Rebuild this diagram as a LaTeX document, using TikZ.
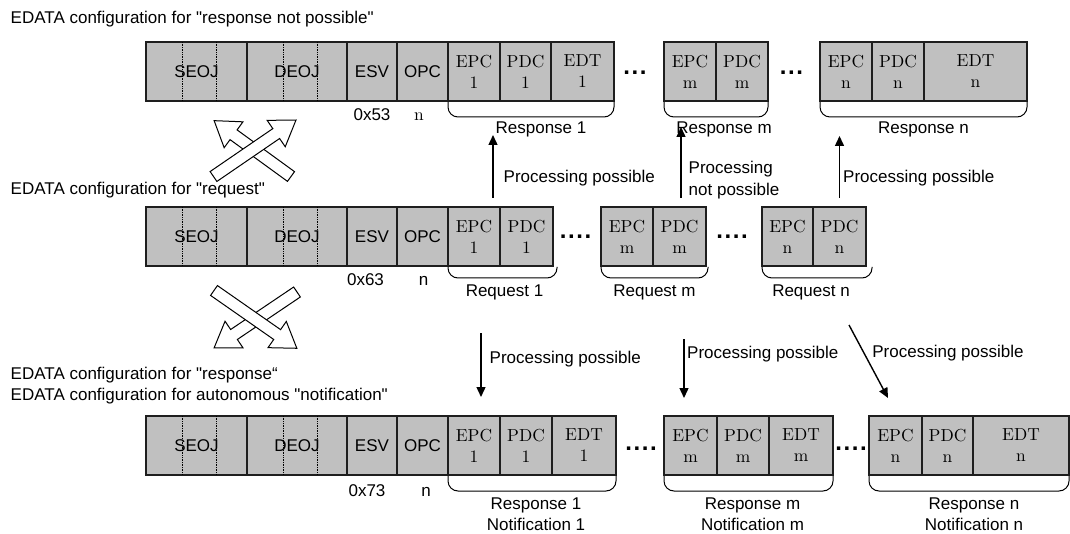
\documentclass[tikz,border=0pt]{standalone}
\usepackage{fontspec}
\setsansfont{Liberation Sans}
\newfontfamily\cellfont{lmroman10-regular.otf}
\usetikzlibrary{positioning,arrows.meta}
\definecolor{cellgray}{HTML}{C0C0C0}
\definecolor{edgeblk}{HTML}{1E1E1E}
\newcommand{\lblfont}{\sffamily\fontsize{17}{21.5}\selectfont}
\newcommand{\qq}{\textquotedbl}
\newcommand{\dotsthree}{.\kern1.6pt.\kern1.6pt.}
\newcommand{\dotsfour}{.\kern1.6pt.\kern1.6pt.\kern1.6pt.}

\begin{document}
\begin{tikzpicture}[x=1pt, y=-1pt,
  cell/.style={draw=edgeblk, line width=1.3pt, fill=cellgray, minimum height=59pt,
               inner sep=0pt, outer sep=0pt, align=center, font=\cellfont\fontsize{17.4}{21}\selectfont},
  hcell/.style={cell, font=\sffamily\fontsize{17}{21}\selectfont},
  lbl/.style={inner sep=0pt, font=\lblfont, text height=12.5pt, text depth=0pt},
  lbl2/.style={inner sep=0pt, font=\lblfont, align=center},
  ellip/.style={inner sep=0pt, font=\sffamily\bfseries\fontsize{24}{24}\selectfont},
  brc/.style={line width=1pt, rounded corners=10pt},
  dotline/.style={densely dotted, line width=0.7pt},
  parr/.style={line width=1.4pt, -{Triangle[length=10pt,width=9pt]}},
  pics/hollowarrow/.style={code={
    \draw[fill=white, line width=1pt] (0,-6) -- (#1-24,-6) -- (#1-24,-16) -- (#1,0)
      -- (#1-24,16) -- (#1-24,6) -- (0,6) -- cycle;}}
]
\useasboundingbox (0,0) rectangle (1070,534);

% captions on the left
\node[lbl, anchor=base west] (capT) at (10.5,24) {EDATA configuration for \qq response not possible\qq};
\node[lbl, anchor=base west] (capR) at (10.5,195) {EDATA configuration for \qq request\qq};
\node[lbl2, align=left, anchor=north west] (capB) at (10.5,366.5)
  {EDATA configuration for \qq response“\\EDATA configuration for autonomous \qq notification\qq};

% top row: response not possible
\node[hcell, minimum width=101pt, anchor=north west] (seojT) at (146,42) {SEOJ};
\node[hcell, minimum width=100pt, right=0pt of seojT] (deojT) {DEOJ};
\node[hcell, minimum width=50pt, right=0pt of deojT] (esvT) {ESV};
\node[hcell, minimum width=51pt, right=0pt of esvT] (opcT) {OPC};
\node[cell, minimum width=52pt, right=0pt of opcT] (epcT1) {EPC\\1};
\node[cell, minimum width=51pt, right=0pt of epcT1] (pdcT1) {PDC\\1};
\node[cell, minimum width=63pt, right=0pt of pdcT1] (edtT1) {EDT\\1};
\node[ellip] (dotT1) at (635,73) {\dotsthree};
\node[cell, minimum width=52pt, anchor=north west] (epcTm) at (664,42) {EPC\\m};
\node[cell, minimum width=52pt, right=0pt of epcTm] (pdcTm) {PDC\\m};
\node[ellip] (dotT2) at (791.5,73) {\dotsthree};
\node[cell, minimum width=52pt, anchor=north west] (epcTn) at (820,42) {EPC\\n};
\node[cell, minimum width=52pt, right=0pt of epcTn] (pdcTn) {PDC\\n};
\node[cell, minimum width=103pt, right=0pt of pdcTn] (edtTn) {EDT\\n};
\draw[dotline] ([xshift=36pt]seojT.north west) -- ([xshift=36pt]seojT.south west)
               ([xshift=70pt]seojT.north west) -- ([xshift=70pt]seojT.south west)
               ([xshift=36pt]deojT.north west) -- ([xshift=36pt]deojT.south west)
               ([xshift=70pt]deojT.north west) -- ([xshift=70pt]deojT.south west);
\node[lbl, below=7pt of esvT] (svT) {0x53};
\node[lbl, font=\cellfont\fontsize{17.4}{21}\selectfont, below=7pt of opcT, xshift=-3.5pt] (ncT) {n};
\draw[brc] ([yshift=-1pt]epcT1.south west) -- ++(0,15)
  -| node[lbl, pos=0.25, below=4pt, xshift=10pt] (rspT1) {Response 1} ([yshift=-1pt]edtT1.south east);
\draw[brc] ([yshift=-1pt]epcTm.south west) -- ++(0,15)
  -| node[lbl, pos=0.25, below=4pt, xshift=8pt] (rspTm) {Response m} ([yshift=-1pt]pdcTm.south east);
\draw[brc] ([yshift=-1pt]epcTn.south west) -- ++(0,15)
  -| node[lbl, pos=0.25, below=4pt] (rspTn) {Response n} ([yshift=-1pt]edtTn.south east);

% middle row: request
\node[hcell, minimum width=101pt, anchor=north west] (seojR) at (146,207) {SEOJ};
\node[hcell, minimum width=100pt, right=0pt of seojR] (deojR) {DEOJ};
\node[hcell, minimum width=50pt, right=0pt of deojR] (esvR) {ESV};
\node[hcell, minimum width=51pt, right=0pt of esvR] (opcR) {OPC};
\node[cell, minimum width=52pt, right=0pt of opcR] (epcR1) {EPC\\1};
\node[cell, minimum width=53pt, right=0pt of epcR1] (pdcR1) {PDC\\1};
\node[ellip] (dotR1) at (575.5,237) {\dotsfour};
\node[cell, minimum width=52pt, anchor=north west] (epcRm) at (601,207) {EPC\\m};
\node[cell, minimum width=53pt, right=0pt of epcRm] (pdcRm) {PDC\\m};
\node[ellip] (dotR2) at (732,237) {\dotsfour};
\node[cell, minimum width=51pt, anchor=north west] (epcRn) at (762,207) {EPC\\n};
\node[cell, minimum width=53pt, right=0pt of epcRn] (pdcRn) {PDC\\n};
\draw[dotline] ([xshift=36pt]seojR.north west) -- ([xshift=36pt]seojR.south west)
               ([xshift=70pt]seojR.north west) -- ([xshift=70pt]seojR.south west)
               ([xshift=36pt]deojR.north west) -- ([xshift=36pt]deojR.south west)
               ([xshift=70pt]deojR.north west) -- ([xshift=70pt]deojR.south west);
\node[lbl, below=6.5pt of esvR, xshift=-6.5pt] (svR) {0x63};
\node[lbl, below=6.5pt of opcR, xshift=1pt] (ncR) {n};
\draw[brc] ([yshift=-1pt]epcR1.south west) -- ++(0,11)
  -| node[lbl, pos=0.25, below=5.5pt, xshift=2pt] (rqR1) {Request 1} ([xshift=4pt,yshift=-1pt]pdcR1.south east);
\draw[brc] ([yshift=-1pt]epcRm.south west) -- ++(0,11)
  -| node[lbl, pos=0.25, below=5.5pt] (rqRm) {Request m} ([xshift=2pt,yshift=-1pt]pdcRm.south east);
\draw[brc] ([yshift=-1pt]epcRn.south west) -- ++(0,11)
  -| node[lbl, pos=0.25, below=5.5pt, xshift=-6pt] (rqRn) {Request n} ([xshift=6pt,yshift=-1pt]pdcRn.south east);

% bottom row: response / notification
\node[hcell, minimum width=101pt, anchor=north west] (seojB) at (146,416) {SEOJ};
\node[hcell, minimum width=100pt, right=0pt of seojB] (deojB) {DEOJ};
\node[hcell, minimum width=50pt, right=0pt of deojB] (esvB) {ESV};
\node[hcell, minimum width=51pt, right=0pt of esvB] (opcB) {OPC};
\node[cell, minimum width=52pt, right=0pt of opcB] (epcB1) {EPC\\1};
\node[cell, minimum width=52pt, right=0pt of epcB1] (pdcB1) {PDC\\1};
\node[cell, minimum width=64pt, right=0pt of pdcB1] (edtB1) {EDT\\1};
\node[ellip] (dotB1) at (641,449) {\dotsfour};
\node[cell, minimum width=53pt, anchor=north west] (epcBm) at (664,416) {EPC\\m};
\node[cell, minimum width=52pt, right=0pt of epcBm] (pdcBm) {PDC\\m};
\node[cell, minimum width=64pt, right=0pt of pdcBm] (edtBm) {EDT\\m};
\node[ellip] (dotB2) at (851,449) {\dotsfour};
\node[cell, minimum width=53pt, anchor=north west] (epcBn) at (869,416) {EPC\\n};
\node[cell, minimum width=51pt, right=0pt of epcBn] (pdcBn) {PDC\\n};
\node[cell, minimum width=96pt, right=0pt of pdcBn] (edtBn) {EDT\\n};
\draw[dotline] ([xshift=36pt]seojB.north west) -- ([xshift=36pt]seojB.south west)
               ([xshift=70pt]seojB.north west) -- ([xshift=70pt]seojB.south west)
               ([xshift=36pt]deojB.north west) -- ([xshift=36pt]deojB.south west)
               ([xshift=70pt]deojB.north west) -- ([xshift=70pt]deojB.south west);
\node[lbl, below=9pt of esvB, xshift=-5pt] (svB) {0x73};
\node[lbl, below=9pt of opcB, xshift=3.5pt] (ncB) {n};
\draw[brc] ([yshift=-1pt]epcB1.south west) -- ++(0,15)
  -| node[lbl2, pos=0.25, below=6pt, xshift=4pt] (rsB1) {Response 1\\Notification 1} ([yshift=-1pt]edtB1.south east);
\draw[brc] ([yshift=-1pt]epcBm.south west) -- ++(0,15)
  -| node[lbl2, pos=0.25, below=6pt, xshift=4pt] (rsBm) {Response m\\Notification m} ([yshift=-1pt]edtBm.south east);
\draw[brc] ([yshift=-1pt]epcBn.south west) -- ++(0,15)
  -| node[lbl2, pos=0.25, below=6pt, xshift=5pt] (rsBn) {Response n\\Notification n} ([yshift=-1pt]edtBn.south east);

% processing arrows, request -> response not possible
\draw[parr] ([xshift=-7pt,yshift=9pt]epcR1.north east) --
  node[lbl, right=10pt, pos=0.35] {Processing possible} ([xshift=-7pt,yshift=-34pt]epcT1.south east);
\draw[parr] ([xshift=28pt,yshift=9pt]pdcRm.north west) --
  node[lbl2, align=left, right=7pt, pos=0.25] {Processing\\not possible} ([xshift=17pt,yshift=-26pt]epcTm.south west);
\draw[parr] ([yshift=9pt]pdcRn.north) --
  node[lbl, right=3pt, pos=0.355] {Processing possible} ([xshift=19.5pt,yshift=-35pt]epcTn.south west);

% processing arrows, request -> response
\draw[parr] ([xshift=33pt,yshift=-67pt]epcR1.south west) --
  node[lbl, right=8pt, pos=0.375] {Processing possible} ([xshift=33pt,yshift=19pt]epcB1.north west);
\draw[parr] ([xshift=31pt,yshift=-73pt]pdcRm.south west) --
  node[lbl, right=2.5pt, pos=0.22] {Processing possible} ([xshift=20pt,yshift=18pt]epcBm.north west);
\draw[parr] ([xshift=36pt,yshift=-59pt]pdcRn.south west) --
  node[lbl, right=8.8pt, pos=0.356] {Processing possible} ([xshift=19pt,yshift=18pt]epcBn.north west);

% crossed hollow arrows
\pic[rotate=144] at (291,176.5) {hollowarrow=95};
\pic[rotate=34.4] at (213.5,176.5) {hollowarrow=100};
\pic[rotate=214] at (297,292) {hollowarrow=100};
\pic[rotate=-34.9] at (214,290.5) {hollowarrow=101};
\end{tikzpicture}
\end{document}
